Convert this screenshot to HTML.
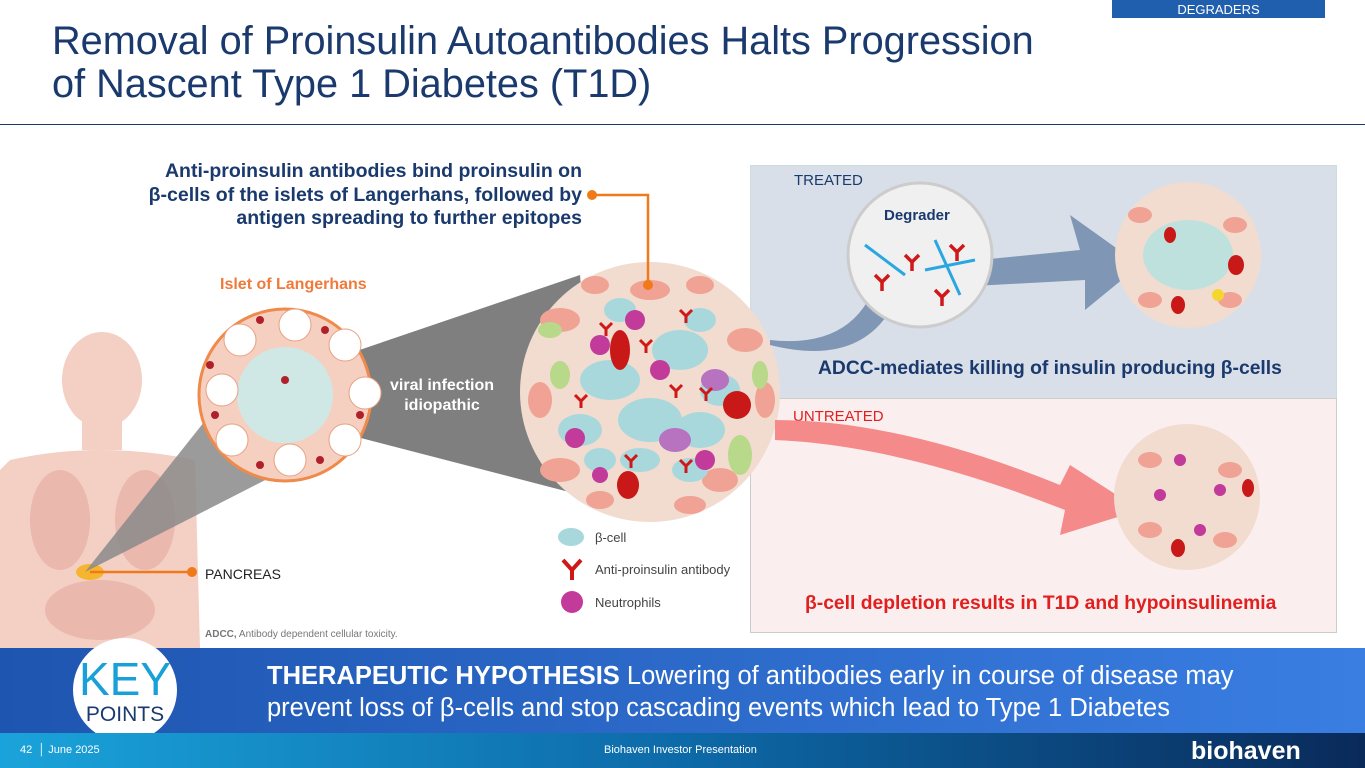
<!DOCTYPE html>
<html><head><meta charset="utf-8"><style>
body{margin:0;width:1365px;height:768px;overflow:hidden;background:#fff;font-family:"Liberation Sans",sans-serif;position:relative}
.a{position:absolute}
</style></head><body>
<div class="a" style="left:1112px;top:0;width:213px;height:18px;background:#1f5fae;color:#fff;font-size:13px;text-align:center;line-height:20px">DEGRADERS</div>
<div class="a" style="left:52px;top:20px;font-size:39.7px;line-height:43px;color:#1a3a6e;white-space:nowrap">Removal of Proinsulin Autoantibodies Halts Progression<br>of Nascent Type 1 Diabetes (T1D)</div>
<div class="a" style="left:0;top:124px;width:1365px;height:1px;background:#1a3a6e"></div>

<div class="a" style="left:750px;top:165px;width:585px;height:233px;background:#d9dfe8;border:1px solid #cdd"></div>
<div class="a" style="left:750px;top:398px;width:585px;height:233px;background:#fbeeee;border:1px solid #ccc"></div>
<div class="a" style="left:794px;top:172px;font-size:15px;color:#1a3a6e">TREATED</div>
<div class="a" style="left:793px;top:408px;font-size:15px;color:#e02020">UNTREATED</div>
<div class="a" style="left:818px;top:358px;font-size:19.3px;font-weight:bold;color:#1a3a6e;white-space:nowrap">ADCC-mediates killing of insulin producing β-cells</div>
<div class="a" style="left:805px;top:593px;font-size:19.3px;font-weight:bold;color:#e02020;white-space:nowrap">β-cell depletion results in T1D and hypoinsulinemia</div>

<svg class="a" style="left:0;top:0" width="1365" height="648">
<g fill="#f3cfc4">
<ellipse cx="102" cy="380" rx="40" ry="48"/>
<rect x="82" y="420" width="40" height="30"/>
<path d="M10 460 Q100 440 195 460 L200 648 L0 648 L0 470 Z"/>
</g>
<g fill="#eab8ac"><ellipse cx="60" cy="520" rx="30" ry="50"/><ellipse cx="145" cy="520" rx="30" ry="50"/><ellipse cx="100" cy="610" rx="55" ry="30"/></g>
<ellipse cx="90" cy="572" rx="14" ry="8" fill="#f5b52e"/>
<polygon points="85,572 285,320 285,470" fill="#8a8a8a" opacity=".85"/>
<polygon points="330,360 580,275 600,500 330,430" fill="#7f7f7f"/>
<circle cx="285" cy="395" r="86" fill="#f5cfc0" stroke="#f08a4a" stroke-width="3"/>
<circle cx="285" cy="395" r="48" fill="#cfe8e6"/>
<g fill="#fff" stroke="#e8a080"><circle cx="240" cy="340" r="16"/><circle cx="295" cy="325" r="16"/><circle cx="345" cy="345" r="16"/><circle cx="222" cy="390" r="16"/><circle cx="232" cy="440" r="16"/><circle cx="290" cy="460" r="16"/><circle cx="345" cy="440" r="16"/><circle cx="365" cy="393" r="16"/></g>
<g fill="#b0202a"><circle cx="260" cy="320" r="4"/><circle cx="325" cy="330" r="4"/><circle cx="210" cy="365" r="4"/><circle cx="215" cy="415" r="4"/><circle cx="260" cy="465" r="4"/><circle cx="320" cy="460" r="4"/><circle cx="360" cy="415" r="4"/><circle cx="285" cy="380" r="4"/></g>
<circle cx="650" cy="392" r="130" fill="#f1dccf"/>
<g fill="#f0a394"><ellipse cx="560" cy="320" rx="20" ry="12"/><ellipse cx="745" cy="340" rx="18" ry="12"/><ellipse cx="560" cy="470" rx="20" ry="12"/><ellipse cx="720" cy="480" rx="18" ry="12"/><ellipse cx="650" cy="290" rx="20" ry="10"/><ellipse cx="540" cy="400" rx="12" ry="18"/><ellipse cx="765" cy="400" rx="10" ry="18"/><ellipse cx="690" cy="505" rx="16" ry="9"/><ellipse cx="600" cy="500" rx="14" ry="9"/><ellipse cx="700" cy="285" rx="14" ry="9"/><ellipse cx="595" cy="285" rx="14" ry="9"/></g>
<g fill="#a9d8dc"><ellipse cx="610" cy="380" rx="30" ry="20"/><ellipse cx="680" cy="350" rx="28" ry="20"/><ellipse cx="650" cy="420" rx="32" ry="22"/><ellipse cx="700" cy="430" rx="25" ry="18"/><ellipse cx="580" cy="430" rx="22" ry="16"/><ellipse cx="720" cy="390" rx="20" ry="16"/><ellipse cx="640" cy="460" rx="20" ry="12"/><ellipse cx="690" cy="470" rx="18" ry="12"/><ellipse cx="600" cy="460" rx="16" ry="12"/><ellipse cx="700" cy="320" rx="16" ry="12"/><ellipse cx="620" cy="310" rx="16" ry="12"/></g>
<g fill="#b8d88a"><ellipse cx="740" cy="455" rx="12" ry="20"/><ellipse cx="560" cy="375" rx="10" ry="14"/><ellipse cx="760" cy="375" rx="8" ry="14"/><ellipse cx="550" cy="330" rx="12" ry="8"/></g>
<g fill="#b772c0"><ellipse cx="675" cy="440" rx="16" ry="12"/><ellipse cx="715" cy="380" rx="14" ry="11"/></g>
<g fill="#c23a9a"><circle cx="600" cy="345" r="10"/><circle cx="635" cy="320" r="10"/><circle cx="660" cy="370" r="10"/><circle cx="575" cy="438" r="10"/><circle cx="705" cy="460" r="10"/><circle cx="600" cy="475" r="8"/></g>
<g fill="#c81818"><ellipse cx="620" cy="350" rx="10" ry="20"/><ellipse cx="737" cy="405" rx="14" ry="14"/><ellipse cx="628" cy="485" rx="11" ry="14"/></g>
<g stroke="#d01818" stroke-width="3" fill="none"><path d="M600 323 l6 6 6-6 M606 329 v7"/><path d="M640 340 l6 6 6-6 M646 346 v7"/><path d="M670 385 l6 6 6-6 M676 391 v7"/><path d="M575 395 l6 6 6-6 M581 401 v7"/><path d="M625 455 l6 6 6-6 M631 461 v7"/><path d="M680 460 l6 6 6-6 M686 466 v7"/><path d="M700 388 l6 6 6-6 M706 394 v7"/><path d="M680 310 l6 6 6-6 M686 316 v7"/></g>
<polyline points="592,195 648,195 648,285" fill="none" stroke="#f07a1a" stroke-width="2.5"/>
<circle cx="592" cy="195" r="5" fill="#f07a1a"/><circle cx="648" cy="285" r="5" fill="#f07a1a"/>
<line x1="90" y1="572" x2="192" y2="572" stroke="#f07a1a" stroke-width="2.5"/>
<circle cx="192" cy="572" r="5" fill="#f07a1a"/>
<path d="M770 340 Q860 350 880 270 L1080 250 L1070 215 L1140 265 L1085 310 L1085 280 L900 290 Q870 370 770 345 Z" fill="#7f96b4"/>
<path d="M775 420 Q900 420 1060 485 L1070 465 L1140 510 L1060 535 L1065 510 Q900 445 775 440 Z" fill="#f58a8a"/>
<circle cx="920" cy="255" r="72" fill="#f0f0f0" stroke="#ccc" stroke-width="3"/>
<g stroke="#2aa7e0" stroke-width="3" fill="none"><path d="M865 245 L905 275"/><path d="M925 270 L975 260"/><path d="M935 240 L960 295"/></g>
<g stroke="#d01818" stroke-width="3.5" fill="none"><path d="M905 255 l7 7 7-7 M912 262 v9"/><path d="M875 275 l7 7 7-7 M882 282 v9"/><path d="M950 245 l7 7 7-7 M957 252 v9"/><path d="M935 290 l7 7 7-7 M942 297 v9"/></g>
<circle cx="1188" cy="255" r="73" fill="#f1dccf"/>
<ellipse cx="1188" cy="255" rx="45" ry="35" fill="#bfe1de"/>
<g fill="#f0a394"><ellipse cx="1140" cy="215" rx="12" ry="8"/><ellipse cx="1235" cy="225" rx="12" ry="8"/><ellipse cx="1150" cy="300" rx="12" ry="8"/><ellipse cx="1230" cy="300" rx="12" ry="8"/></g>
<g fill="#c81818"><ellipse cx="1236" cy="265" rx="8" ry="10"/><ellipse cx="1178" cy="305" rx="7" ry="9"/><ellipse cx="1170" cy="235" rx="6" ry="8"/></g>
<circle cx="1218" cy="295" r="6" fill="#f5d630"/>
<circle cx="1187" cy="497" r="73" fill="#f1dccf"/>
<g fill="#f0a394"><ellipse cx="1150" cy="460" rx="12" ry="8"/><ellipse cx="1230" cy="470" rx="12" ry="8"/><ellipse cx="1150" cy="530" rx="12" ry="8"/><ellipse cx="1225" cy="540" rx="12" ry="8"/></g>
<g fill="#c23a9a"><circle cx="1180" cy="460" r="6"/><circle cx="1220" cy="490" r="6"/><circle cx="1160" cy="495" r="6"/><circle cx="1200" cy="530" r="6"/></g>
<g fill="#c81818"><ellipse cx="1178" cy="548" rx="7" ry="9"/><ellipse cx="1248" cy="488" rx="6" ry="9"/></g>
<ellipse cx="571" cy="537" rx="13" ry="9" fill="#a9d8dc"/>
<path d="M563 560 L572 570 L581 560 M572 570 L572 580" stroke="#d01818" stroke-width="4" fill="none"/>
<circle cx="572" cy="602" r="11" fill="#c23a9a"/>
</svg>
<div class="a" style="left:60px;top:160px;width:522px;text-align:right;font-size:19.5px;line-height:23.5px;font-weight:bold;color:#1a3a6e;white-space:nowrap">Anti-proinsulin antibodies bind proinsulin on<br>β-cells of the islets of Langerhans, followed by<br>antigen spreading to further epitopes</div>
<div class="a" style="left:220px;top:276px;font-size:16px;font-weight:bold;color:#f07a3a">Islet of Langerhans</div>
<div class="a" style="left:390px;top:376px;font-size:16px;font-weight:bold;color:#fff;text-align:center;line-height:20px">viral infection<br>idiopathic</div>
<div class="a" style="left:884px;top:207px;font-size:15px;font-weight:bold;color:#1a3a6e">Degrader</div>
<div class="a" style="left:205px;top:566px;font-size:14px;color:#222">PANCREAS</div>
<div class="a" style="left:595px;top:530px;font-size:13px;color:#444">β-cell</div>
<div class="a" style="left:595px;top:562px;font-size:13px;color:#444">Anti-proinsulin antibody</div>
<div class="a" style="left:595px;top:595px;font-size:13px;color:#444">Neutrophils</div>
<div class="a" style="left:205px;top:629px;font-size:10px;color:#777"><b>ADCC,</b> Antibody dependent cellular toxicity.</div>

<div class="a" style="left:0;top:648px;width:1365px;height:85px;background:linear-gradient(90deg,#1e55b0,#3a7ee2)"></div>
<div class="a" style="left:73px;top:638px;width:104px;height:104px;border-radius:50%;background:#fff"></div>
<div class="a" style="left:75px;top:656px;width:100px;text-align:center;font-size:46px;line-height:46px;color:#1aa0d8">KEY</div>
<div class="a" style="left:75px;top:703px;width:100px;text-align:center;font-size:21px;color:#1a3a6e">POINTS</div>
<div class="a" style="left:267px;top:660px;font-size:25.5px;line-height:32px;color:#fff;white-space:nowrap"><b>THERAPEUTIC HYPOTHESIS</b> Lowering of antibodies early in course of disease may<br>prevent loss of β-cells and stop cascading events which lead to Type 1 Diabetes</div>
<div class="a" style="left:0;top:733px;width:1365px;height:35px;background:linear-gradient(90deg,#1aa3da,#0d6aa8 50%,#0a2a5a)"></div>
<div class="a" style="left:20px;top:744px;font-size:11px;color:#fff">42 &nbsp;│ June 2025</div>
<div class="a" style="left:604px;top:744px;font-size:11px;color:#fff">Biohaven Investor Presentation</div>
<div class="a" style="left:1191px;top:737px;font-size:25px;font-weight:bold;color:#fff">biohaven</div>
</body></html>
